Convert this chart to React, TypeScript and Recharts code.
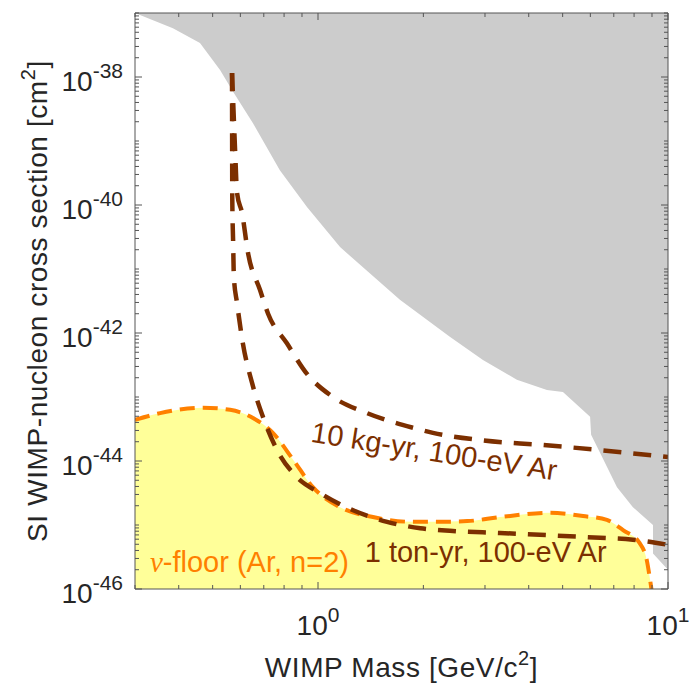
import React from 'react';
import { ComposedChart, Area, Line, XAxis, YAxis, ReferenceDot } from 'recharts';

// excluded region (upper grey area), boundary
const excludedMass = [0.3, 0.385, 0.46, 0.525, 0.572, 0.652, 0.778, 0.93, 1.156, 1.714, 2.38, 2.96, 3.7, 4.51, 5.01, 5.99, 6.03, 6.4, 7.15, 7.94, 9.06, 9.06, 10];
const excludedSigma = [1e-37, 5.8e-38, 3.4e-38, 1.29e-38, 5.9e-39, 1.9e-39, 3.5e-40, 9.3e-41, 2.2e-41, 3.3e-42, 8.7e-43, 3.8e-43, 1.86e-43, 1.29e-43, 1.2e-43, 4.9e-44, 2.57e-44, 1.33e-44, 3.9e-45, 1.9e-45, 1.0e-45, 3.6e-46, 2.0e-46];

// 10 kg-yr, 100-eV Ar projection
const kgMass = [0.568, 0.572, 0.58, 0.587, 0.607, 0.631, 0.683, 0.72, 0.815, 0.93, 1.104, 1.38, 1.87, 2.13, 2.96, 4.39, 6.4, 10];
const kgSigma = [1.15e-38, 4.4e-39, 6.5e-40, 1.55e-40, 7.4e-41, 1.78e-41, 4.7e-42, 2.0e-42, 6.9e-43, 2.3e-43, 1.0e-43, 5.6e-44, 3.3e-44, 2.75e-44, 2.1e-44, 1.78e-44, 1.48e-44, 1.15e-44];

// 1 ton-yr, 100-eV Ar projection
const tonMass = [0.568, 0.569, 0.572, 0.575, 0.587, 0.61, 0.648, 0.696, 0.764, 0.87, 1.013, 1.26, 1.575, 1.96, 2.38, 3.31, 4.6, 6.4, 7.94, 10];
const tonSigma = [1.15e-38, 1.2e-40, 2.8e-41, 7.4e-42, 2.95e-42, 6.9e-43, 1.66e-43, 4.9e-44, 1.48e-44, 5.6e-45, 3.16e-45, 1.7e-45, 1.12e-45, 8.9e-46, 8.1e-46, 7.5e-46, 6.9e-46, 6.3e-46, 5.9e-46, 4.9e-46];

// neutrino floor (Ar, n=2)
const floorMass = [0.3, 0.354, 0.469, 0.561, 0.652, 0.743, 0.849, 0.967, 1.156, 1.436, 1.87, 2.13, 2.67, 3.31, 4.6, 5.72, 6.69, 7.44, 8.3, 8.7, 8.89, 9.06];
const floorSigma = [4.4e-44, 5.6e-44, 6.8e-44, 6.3e-44, 4.7e-44, 2.75e-44, 1.05e-44, 3.9e-45, 1.9e-45, 1.33e-45, 1.12e-45, 1.12e-45, 1.15e-45, 1.33e-45, 1.55e-45, 1.38e-45, 1.2e-45, 8.3e-46, 5.2e-46, 2.8e-46, 1.38e-46, 6.8e-47];

const xTicks = [0.3, 0.4, 0.5, 0.6, 0.7, 0.8, 0.9, 1, 2, 3, 4, 5, 6, 7, 8, 9, 10];
const xMajor = [1, 10];
const xMajorExp = ['0', '1'];
const yMajor = [1e-46, 1e-44, 1e-42, 1e-40, 1e-38];
const yMajorExp = ['-46', '-44', '-42', '-40', '-38'];

const yTicks: number[] = [];
for (let n = -46; n <= -38; n++) {
  for (let k = 1; k <= 9; k++) yTicks.push(k * Math.pow(10, n));
}
yTicks.push(1e-37);

const zip = (m: number[], s: number[]) => m.map((v, i) => ({ m: v, s: s[i] }));
const excludedData = zip(excludedMass, excludedSigma);
const kgData = zip(kgMass, kgSigma);
const tonData = zip(tonMass, tonSigma);
const floorData = zip(floorMass, floorSigma);

const FONT = "'Liberation Sans', Arial, Helvetica, sans-serif";
const TEXT = '#262626';
const FRAME = '#555555';
const BROWN = '#7c2f00';
const ORANGE = '#ff8000';

const findMajor = (v: number, list: number[]) =>
  list.findIndex(t => Math.abs(v - t) / t < 1e-6);

function XTick(props: any) {
  const { x, y, payload, top } = props;
  const i = findMajor(payload.value, xMajor);
  const len = i >= 0 ? 7 : 4;
  const dir = top ? 1 : -1;
  return (
    <g>
      <line x1={x} y1={y} x2={x} y2={y + dir * len} stroke={FRAME} strokeWidth={1} />
      {!top && i >= 0 && (
        <text x={x} y={y + 46} textAnchor="middle" fill={TEXT} fontSize={28} fontFamily={FONT}>
          <tspan>10</tspan>
          <tspan dy={-13} fontSize={21}>{xMajorExp[i]}</tspan>
        </text>
      )}
    </g>
  );
}

function YTick(props: any) {
  const { x, y, payload, right } = props;
  const i = findMajor(payload.value, yMajor);
  const len = i >= 0 ? 7 : 4;
  const dir = right ? -1 : 1;
  return (
    <g>
      <line x1={x} y1={y} x2={x + dir * len} y2={y} stroke={FRAME} strokeWidth={1} />
      {!right && i >= 0 && (
        <text x={x - 12} y={y + 14} textAnchor="end" fill={TEXT} fontSize={28} fontFamily={FONT}>
          <tspan>10</tspan>
          <tspan dy={-13} fontSize={21}>{yMajorExp[i]}</tspan>
        </text>
      )}
    </g>
  );
}

const note = (text: React.ReactNode, color: string, angle: number) => (p: any) => {
  const vb = p.viewBox;
  const cx = vb.x + vb.width / 2;
  const cy = vb.y + vb.height / 2;
  return (
    <text x={cx} y={cy} fill={color} fontSize={29} fontFamily={FONT} transform={`rotate(${angle} ${cx} ${cy})`}>
      {text}
    </text>
  );
};

export default function App() {
  return (
    <div style={{ position: 'absolute', left: 0, top: 0, width: 689, height: 686, background: '#fff' }}>
      <ComposedChart width={689} height={686} margin={{ top: 12, right: 20, bottom: 96, left: 134 }}>
        <XAxis
          xAxisId="b" dataKey="m" type="number" scale="log" domain={[0.3, 10]} allowDataOverflow
          ticks={xTicks} interval={0} height={1} tickSize={0} tickMargin={0} tickLine={false}
          axisLine={{ stroke: FRAME }} tick={(p: any) => <XTick {...p} />}
          label={{
            content: (p: any) => {
              const vb = p.viewBox;
              return (
                <text x={vb.x + vb.width / 2} y={vb.y + 88} textAnchor="middle" fill={TEXT} fontSize={28} fontFamily={FONT} letterSpacing={0.6}>
                  <tspan>WIMP Mass [GeV/c</tspan>
                  <tspan dy={-12} fontSize={20}>2</tspan>
                  <tspan dy={12}>]</tspan>
                </text>
              );
            },
          }}
        />
        <XAxis
          xAxisId="t" orientation="top" dataKey="m" type="number" scale="log" domain={[0.3, 10]} allowDataOverflow
          ticks={xTicks} interval={0} height={1} tickSize={0} tickMargin={0} tickLine={false}
          axisLine={{ stroke: FRAME }} tick={(p: any) => <XTick {...p} top />}
        />
        <YAxis
          yAxisId="l" type="number" scale="log" domain={[1e-46, 1e-37]} allowDataOverflow
          ticks={yTicks} interval={0} width={1} tickSize={0} tickMargin={0} tickLine={false}
          axisLine={{ stroke: FRAME }} tick={(p: any) => <YTick {...p} />}
          label={{
            content: (p: any) => {
              const vb = p.viewBox;
              const cx = 47;
              const cy = vb.y + vb.height / 2;
              return (
                <text x={cx} y={cy} textAnchor="middle" fill={TEXT} fontSize={28} fontFamily={FONT} letterSpacing={0.6} transform={`rotate(-90 ${cx} ${cy})`}>
                  <tspan>SI WIMP-nucleon cross section [cm</tspan>
                  <tspan dy={-12} fontSize={20}>2</tspan>
                  <tspan dy={12}>]</tspan>
                </text>
              );
            },
          }}
        />
        <YAxis
          yAxisId="r" orientation="right" type="number" scale="log" domain={[1e-46, 1e-37]} allowDataOverflow
          ticks={yTicks} interval={0} width={1} tickSize={0} tickMargin={0} tickLine={false}
          axisLine={{ stroke: FRAME }} tick={(p: any) => <YTick {...p} right />}
        />

        <Area xAxisId="b" yAxisId="l" data={excludedData} dataKey="s" type="linear" baseValue="dataMax"
          fill="#cccccc" fillOpacity={1} stroke="none" isAnimationActive={false} />
        <Area xAxisId="b" yAxisId="l" data={floorData} dataKey="s" type="monotone" baseValue="dataMin"
          fill="#ffff99" fillOpacity={1} stroke="none" isAnimationActive={false} />
        <Line xAxisId="b" yAxisId="l" data={floorData} dataKey="s" type="monotone" stroke={ORANGE}
          strokeWidth={4} strokeDasharray="15 8" dot={false} isAnimationActive={false} />
        <Line xAxisId="b" yAxisId="l" data={kgData} dataKey="s" type="monotone" stroke={BROWN}
          strokeWidth={4.5} strokeDasharray="18 12" dot={false} isAnimationActive={false} />
        <Line xAxisId="b" yAxisId="l" data={tonData} dataKey="s" type="monotone" stroke={BROWN}
          strokeWidth={4.5} strokeDasharray="18 12" dot={false} isAnimationActive={false} />

        <ReferenceDot xAxisId="b" yAxisId="l" x={0.949} y={2.0e-44} r={0} fill="none" stroke="none"
          label={{ content: note('10 kg-yr, 100-eV Ar', BROWN, 9) }} />
        <ReferenceDot xAxisId="b" yAxisId="l" x={1.36} y={2.6e-46} r={0} fill="none" stroke="none"
          label={{ content: note('1 ton-yr, 100-eV Ar', BROWN, 0) }} />
        <ReferenceDot xAxisId="b" yAxisId="l" x={0.331} y={1.85e-46} r={0} fill="none" stroke="none"
          label={{
            content: note(
              <>
                <tspan fontFamily="'Liberation Serif', 'DejaVu Serif', serif" fontStyle="italic">ν</tspan>
                <tspan>-floor (Ar, n=2)</tspan>
              </>,
              ORANGE,
              0,
            ),
          }}
        />
      </ComposedChart>
    </div>
  );
}
